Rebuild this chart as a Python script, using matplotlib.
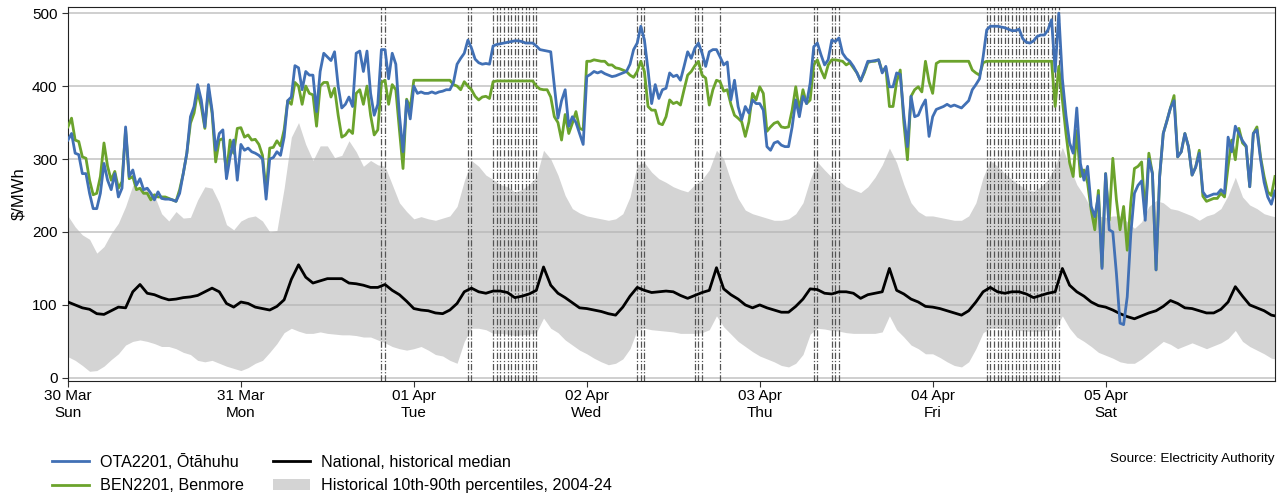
import numpy as np
import pandas as pd
import matplotlib
matplotlib.use("Agg")
import matplotlib.pyplot as plt

plt.rcParams["font.family"] = ["Liberation Sans", "DejaVu Sans"]

start = pd.Timestamp("2025-03-30 00:00")

# half-hourly final prices, $/MWh (one row per day, 48 trading periods)
ota = [
    326, 335, 308, 306, 280, 280, 253, 232, 232, 253, 294, 271, 258, 280, 248, 260,
    344, 276, 285, 264, 273, 258, 260, 253, 244, 255, 246, 245, 245, 244, 242, 253,
    280, 308, 358, 372, 402, 381, 344, 402, 367, 312, 335, 340, 273, 303, 326, 271,
    320, 312, 315, 310, 308, 305, 300, 245, 300, 302, 310, 305, 330, 380, 385, 428,
    425, 395, 420, 415, 415, 365, 420, 445, 440, 435, 447, 400, 370, 375, 385, 372,
    445, 448, 420, 448, 390, 360, 375, 450, 450, 410, 445, 430, 360, 310, 380, 355,
    400, 390, 392, 390, 390, 392, 390, 392, 393, 395, 395, 405, 430, 438, 445, 463,
    452, 437, 432, 430, 431, 430, 455, 457, 458, 459, 460, 461, 462, 462, 461, 459,
    459, 459, 455, 450, 449, 448, 447, 400, 356, 380, 395, 345, 358, 350, 335, 320,
    413, 416, 420, 418, 420, 417, 415, 413, 414, 416, 418, 420, 430, 450, 459, 482,
    463, 422, 376, 402, 383, 395, 397, 418, 413, 415, 408, 427, 447, 438, 452, 459,
    445, 427, 447, 450, 450, 440, 429, 433, 381, 408, 372, 354, 372, 363, 381, 376,
    376, 367, 317, 312, 322, 324, 319, 317, 317, 344, 381, 358, 386, 376, 404, 454,
    459, 443, 429, 436, 463, 461, 466, 445, 438, 434, 427, 418, 407, 420, 434, 434,
    435, 436, 418, 427, 399, 399, 418, 416, 360, 317, 386, 358, 360, 372, 381, 331,
    358, 368, 370, 372, 375, 372, 374, 372, 370, 375, 380, 395, 402, 410, 440, 477,
    482, 482, 482, 481, 480, 478, 476, 476, 478, 465, 460, 459, 462, 468, 470, 470,
    477, 491, 420, 500, 410, 360, 322, 308, 370, 294, 271, 290, 235, 221, 250, 150,
    280, 203, 200, 143, 75, 73, 111, 198, 253, 264, 270, 216, 300, 280, 148, 276,
    335, 352, 370, 380, 303, 310, 335, 317, 278, 289, 308, 255, 248, 250, 252, 252,
    258, 253, 330, 310, 345, 335, 325, 318, 262, 335, 340, 300, 268, 248, 238, 256,
]
ben = [
    344, 356, 326, 324, 303, 301, 271, 251, 253, 276, 322, 290, 271, 283, 260, 269,
    340, 273, 276, 258, 260, 253, 253, 244, 251, 248, 248, 248, 246, 244, 242, 258,
    280, 308, 349, 363, 392, 372, 342, 395, 363, 296, 326, 328, 280, 326, 308, 342,
    343, 330, 333, 326, 327, 320, 305, 255, 315, 316, 325, 318, 340, 380, 375, 405,
    400, 375, 400, 390, 388, 345, 400, 405, 405, 385, 397, 360, 330, 333, 340, 335,
    390, 395, 375, 400, 360, 333, 340, 405, 408, 375, 402, 395, 340, 287, 382, 370,
    408, 408, 408, 408, 408, 408, 408, 408, 408, 408, 408, 402, 400, 395, 406, 400,
    395, 386, 381, 385, 386, 383, 406, 407, 407, 407, 407, 407, 407, 407, 407, 407,
    407, 407, 400, 396, 395, 395, 385, 358, 350, 326, 361, 335, 349, 365, 342, 340,
    434, 434, 436, 435, 434, 434, 429, 429, 425, 424, 422, 420, 415, 412, 420, 434,
    420, 372, 367, 367, 349, 347, 358, 381, 376, 378, 374, 395, 415, 420, 428, 434,
    415, 411, 374, 395, 408, 406, 393, 395, 375, 360, 356, 351, 331, 351, 390, 381,
    399, 390, 338, 344, 349, 351, 344, 343, 344, 367, 399, 367, 395, 376, 381, 429,
    436, 422, 411, 429, 436, 436, 435, 434, 429, 432, 425, 418, 407, 418, 432, 434,
    434, 436, 420, 425, 372, 372, 406, 422, 350, 299, 386, 395, 399, 392, 434, 406,
    390, 431, 434, 434, 434, 434, 434, 434, 434, 434, 434, 422, 418, 415, 432, 434,
    434, 434, 434, 434, 434, 434, 434, 434, 434, 434, 434, 434, 434, 434, 434, 434,
    434, 434, 372, 427, 381, 335, 295, 276, 339, 276, 285, 267, 230, 203, 257, 152,
    280, 216, 301, 244, 203, 235, 175, 240, 287, 290, 296, 224, 308, 280, 148, 276,
    335, 352, 370, 387, 303, 310, 335, 317, 278, 289, 312, 249, 242, 244, 246, 246,
    253, 248, 290, 326, 299, 342, 322, 317, 262, 335, 344, 303, 276, 255, 250, 276,
]

# hourly historical statistics (last value is the following midnight)
median = [
    104, 100, 96, 94, 88, 87, 92, 97, 96, 118, 128, 116, 114, 110, 107, 108, 110, 111, 113, 118, 123, 118, 102, 97,
    104, 102, 97, 95, 93, 98, 107, 135, 155, 138, 130, 133, 136, 136, 136, 130, 129, 127, 124, 124, 128, 120, 114, 105,
    95, 93, 92, 89, 88, 93, 102, 118, 123, 118, 116, 119, 119, 117, 110, 112, 115, 120, 152, 127, 116, 110, 103, 96,
    95, 93, 91, 88, 86, 97, 112, 124, 120, 117, 118, 119, 118, 113, 109, 113, 117, 120, 151, 122, 114, 108, 100, 96,
    100, 96, 93, 90, 90, 98, 108, 122, 121, 116, 115, 118, 118, 116, 109, 114, 116, 118, 150, 120, 115, 108, 104, 98,
    97, 95, 92, 89, 86, 92, 104, 118, 124, 118, 116, 118, 118, 115, 110, 113, 116, 118, 150, 127, 118, 112, 104, 99,
    97, 93, 88, 84, 81, 85, 89, 92, 98, 106, 102, 96, 95, 92, 89, 89, 94, 104, 125, 112, 100, 96, 92, 86,
    84,
]
p90 = [
    222, 207, 196, 190, 171, 180, 198, 212, 235, 264, 259, 262, 250, 225, 215, 228, 219, 220, 244, 262, 260, 240, 210, 203,
    215, 220, 222, 215, 200, 202, 260, 330, 350, 320, 298, 318, 318, 302, 305, 325, 310, 290, 298, 292, 290, 265, 240, 228,
    218, 221, 218, 216, 219, 222, 235, 270, 298, 290, 278, 272, 265, 262, 255, 258, 265, 275, 312, 300, 278, 250, 232, 226,
    222, 220, 218, 216, 218, 225, 248, 292, 295, 282, 273, 268, 262, 258, 255, 265, 272, 285, 312, 300, 270, 246, 230, 225,
    222, 219, 216, 216, 218, 225, 240, 272, 296, 285, 275, 270, 262, 258, 254, 262, 275, 292, 315, 295, 265, 240, 228, 222,
    222, 220, 218, 216, 216, 222, 240, 275, 298, 290, 280, 272, 265, 258, 256, 262, 272, 290, 316, 290, 265, 250, 232, 222,
    220, 222, 222, 214, 205, 214, 235, 243, 240, 232, 230, 226, 222, 216, 222, 225, 232, 250, 275, 248, 237, 232, 225, 222,
    220,
]
p10 = [
    29, 24, 17, 9, 10, 16, 25, 33, 45, 50, 52, 50, 47, 43, 43, 40, 35, 32, 24, 22, 24, 20, 16, 13,
    10, 14, 20, 24, 35, 47, 62, 68, 64, 61, 61, 63, 61, 60, 59, 59, 58, 56, 56, 52, 48, 43, 40, 38,
    40, 43, 38, 32, 30, 24, 20, 50, 68, 68, 66, 61, 61, 60, 58, 59, 60, 62, 82, 68, 62, 52, 45, 38,
    33, 27, 22, 18, 20, 26, 40, 66, 68, 66, 65, 64, 63, 61, 61, 61, 62, 66, 85, 70, 60, 50, 43, 36,
    30, 26, 22, 17, 15, 20, 32, 60, 68, 67, 65, 64, 62, 61, 61, 61, 61, 63, 85, 66, 56, 45, 40, 33,
    33, 28, 22, 17, 15, 22, 40, 62, 68, 68, 67, 66, 65, 64, 64, 64, 65, 67, 85, 68, 56, 50, 43, 35,
    31, 27, 22, 20, 20, 26, 34, 42, 50, 46, 40, 44, 48, 44, 40, 44, 48, 54, 65, 50, 43, 38, 33, 27,
    25,
]

# flagged trading periods (day offset from start, half-hour slot within the day)
flag_day = [1, 1,
            2, 2] + [2] * 13 + \
           [3, 3, 3, 3, 3, 3, 3,
            4, 4, 4, 4, 4] + [5] * 21
flag_slot = [39, 40,
             15, 16] + list(range(22, 35)) + \
            [14, 15, 16, 30, 31, 32, 37,
             15, 16, 20, 21, 22] + list(range(15, 36))

half_hours = pd.date_range(start, periods=len(ota), freq="30min")
hours = pd.date_range(start, periods=len(median), freq="h")
days = pd.date_range(start, periods=7, freq="D")

fig, ax = plt.subplots(figsize=(12.82, 4.95), dpi=100)
fig.subplots_adjust(left=0.053, right=0.9945, top=0.986, bottom=0.23)

band = ax.fill_between(hours, p10, p90, color="#d4d4d4", lw=0, zorder=1,
                       label="Historical 10th-90th percentiles, 2004-24")
for y in range(0, 501, 100):
    ax.axhline(y, color="#b4b4b4", lw=1.2, alpha=0.75, zorder=1.5)

for d, s in zip(flag_day, flag_slot):
    t = start + pd.Timedelta(days=d) + pd.Timedelta(minutes=30 * s)
    ax.axvline(t, color="#555555", lw=0.9, ls=(0, (5, 1.5, 1, 1.5)), zorder=2)

l_ota, = ax.plot(half_hours, ota, color="#4170b5", lw=2, zorder=4, label="OTA2201, Ōtāhuhu")
l_ben, = ax.plot(half_hours, ben, color="#6ba32c", lw=2, zorder=3.5, label="BEN2201, Benmore")
l_med, = ax.plot(hours, median, color="black", lw=2, zorder=3, label="National, historical median")

ax.set_xlim(half_hours[0], half_hours[-1])
ax.set_ylim(-4.5, 508.5)
ax.set_yticks(range(0, 501, 100))
ax.set_xticks(days)
ax.set_xticklabels([d.strftime("%d %b\n%a") for d in days], linespacing=1.25)
ax.tick_params(axis="both", labelsize=11, length=4, width=0.8, color="#333333")
ax.tick_params(axis="x", pad=1.5)
ax.set_ylabel(r"\$/MWh", fontsize=12)
for sp in ax.spines.values():
    sp.set_linewidth(0.8)
    sp.set_color("#222222")

fig.legend([l_ota, l_ben, l_med, band],
           [h.get_label() for h in [l_ota, l_ben, l_med, band]],
           ncol=2, loc="lower left", bbox_to_anchor=(0.029, -0.026), frameon=False,
           fontsize=11.6, handlelength=2.3, handletextpad=0.7,
           columnspacing=1.8, labelspacing=0.55)
fig.text(0.9945, 0.067, "Source: Electricity Authority", ha="right", fontsize=9.7)

fig.savefig("out.png", dpi=100)
